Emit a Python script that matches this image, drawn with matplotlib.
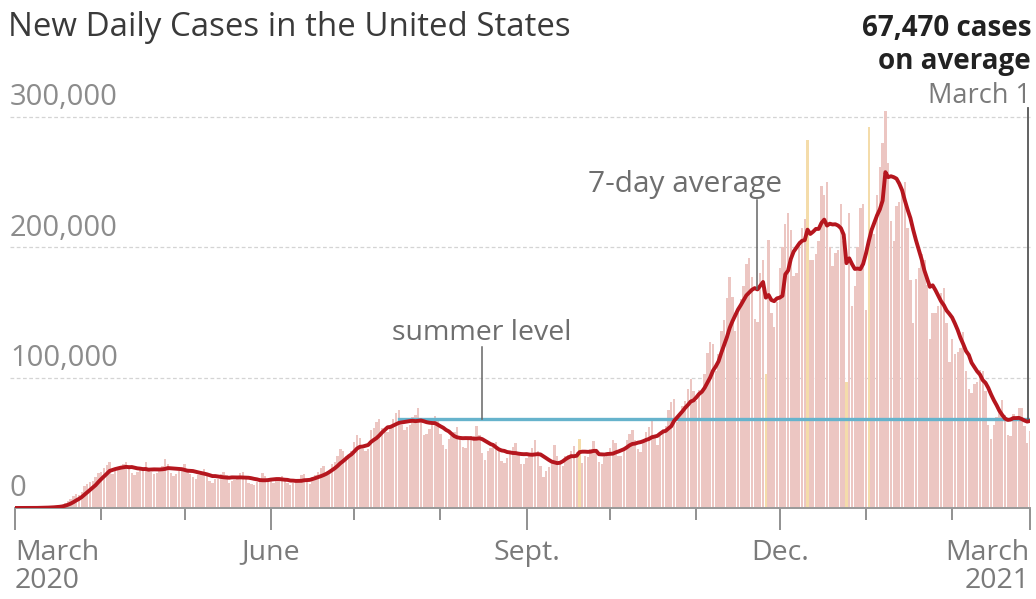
import matplotlib
matplotlib.use('Agg')
import matplotlib.pyplot as plt
import pandas as pd

plt.rcParams['font.family'] = ['Open Sans', 'DejaVu Sans']

# new reported cases per day, in thousands; one row per week (Sun..Sat),
# starting Sunday 1 March 2020 and ending Monday 1 March 2021
daily_k = [
    0.02, 0.02, 0.03, 0.04, 0.05, 0.08, 0.1,
    0.1, 0.2, 0.3, 0.4, 0.5, 0.6, 0.8,
    1.0, 1.3, 1.8, 2.5, 4.2, 5.6, 7.0,
    9.0, 10.5, 10.2, 12.5, 17.0, 18.5, 19.8,
    21.0, 24.0, 27.0, 28.0, 31.0, 33.0, 35.0,
    26.0, 29.0, 31.0, 31.5, 33.5, 35.0, 33.0,
    27.0, 25.5, 27.5, 30.0, 31.0, 35.5, 29.5,
    28.0, 26.0, 27.0, 30.0, 32.0, 37.5, 34.0,
    27.0, 24.5, 26.0, 28.5, 31.0, 33.5, 30.0,
    26.0, 23.5, 22.0, 25.0, 28.0, 30.0, 26.5,
    21.0, 19.0, 22.0, 22.5, 26.0, 28.0, 25.5,
    19.5, 21.0, 21.5, 22.5, 26.5, 27.5, 24.5,
    19.0, 18.5, 18.0, 20.0, 22.5, 26.5, 24.5,
    20.0, 21.0, 19.5, 21.5, 22.5, 24.5, 23.0,
    19.0, 17.5, 19.0, 20.0, 22.5, 25.0, 26.0,
    20.0, 18.5, 23.5, 25.0, 27.5, 30.5, 32.0,
    27.0, 27.5, 33.5, 35.5, 40.0, 45.0, 43.5,
    40.0, 40.5, 44.0, 50.5, 56.0, 54.0, 45.0,
    44.0, 45.0, 60.0, 61.5, 66.0, 68.0, 61.5,
    58.0, 58.5, 62.0, 68.5, 73.0, 75.5, 64.0,
    60.0, 62.0, 64.0, 70.0, 71.0, 77.0, 66.0,
    56.0, 57.0, 61.0, 68.5, 70.5, 69.0, 57.0,
    48.0, 45.5, 53.0, 55.0, 58.5, 62.5, 54.0,
    46.5, 46.0, 52.5, 55.0, 55.5, 63.0, 56.0,
    42.0, 37.0, 44.0, 46.0, 50.0, 50.5, 45.5,
    36.0, 34.5, 38.0, 44.0, 47.0, 50.0, 42.5,
    34.0, 33.5, 38.5, 41.5, 46.0, 52.0, 44.0,
    32.0, 24.0, 28.5, 31.5, 37.0, 48.0, 40.0,
    34.0, 32.0, 40.0, 40.5, 44.0, 47.5, 43.0,
    53.0, 34.5, 40.0, 39.5, 45.0, 51.5, 43.5,
    35.0, 33.5, 39.0, 42.5, 46.0, 52.5, 50.0,
    40.0, 40.0, 45.0, 52.0, 57.0, 60.0, 52.0,
    45.0, 43.0, 50.5, 58.5, 62.0, 69.0, 56.0,
    48.5, 55.0, 61.0, 63.0, 75.0, 81.0, 84.0,
    66.0, 72.0, 78.0, 82.0, 91.0, 99.0, 90.0,
    82.0, 90.5, 90.0, 103.0, 119.0, 127.0, 126.0,
    105.0, 118.0, 136.0, 144.0, 161.0, 177.0, 162.0,
    136.0, 150.0, 160.0, 170.0, 187.0, 192.0, 177.0,
    145.0, 143.0, 180.0, 190.0, 103.0, 206.0, 150.0,
    139.0, 158.0, 184.0, 200.0, 218.0, 226.0, 213.0,
    178.0, 180.0, 205.0, 215.0, 222.0, 282.0, 190.0,
    190.0, 195.0, 205.0, 247.0, 240.0, 250.0, 200.0,
    186.0, 196.0, 198.0, 233.0, 205.0, 97.0, 226.0,
    155.0, 170.0, 200.0, 230.0, 233.0, 152.0, 292.0,
    215.0, 210.0, 240.0, 262.0, 280.0, 305.0, 265.0,
    220.0, 205.0, 232.0, 235.0, 245.0, 250.0, 215.0,
    175.0, 142.0, 176.0, 184.0, 195.0, 190.0, 171.0,
    130.0, 150.0, 150.0, 155.0, 165.0, 169.0, 142.0,
    112.0, 130.0, 118.0, 120.0, 123.0, 135.0, 105.0,
    91.0, 88.0, 95.0, 97.0, 106.0, 105.0, 90.0,
    64.0, 53.0, 64.0, 70.0, 76.0, 83.0, 71.0,
    56.0, 55.0, 72.0, 70.0, 77.0, 77.0, 63.0,
    50.0, 59.0,
]
# days with irregular reporting (holidays, backlogs), drawn in yellow
flagged_dates = ['2020-09-20', '2020-11-26', '2020-12-11', '2020-12-25', '2021-01-02']
summer_level = 68000
summer_start = '2020-07-17'
month_ticks = pd.date_range('2020-03-01', '2021-03-01', freq='MS')
label_months = ['2020-03-01', '2020-06-01', '2020-09-01', '2020-12-01', '2021-03-01']
tick_labels = ['March\n2020', 'June', 'Sept.', 'Dec.', 'March\n2021']
ytick_vals = [0, 100000, 200000, 300000]

df = pd.DataFrame({'cases': [v * 1000 for v in daily_k]},
                  index=pd.date_range('2020-03-01', periods=len(daily_k), freq='D'))
df['avg'] = df['cases'].rolling(7, min_periods=1).mean()
flagged = df.index.isin(pd.to_datetime(flagged_dates))

W, H = 1036, 599
fig = plt.figure(figsize=(W / 100, H / 100), dpi=100)
ax = fig.add_axes([15 / W, (H - 508) / H, (1030 - 15) / W, (508 - 104) / H])

colors = ['#f4dcaa' if f else '#ecc6c2' for f in flagged]
ax.bar(df.index, df['cases'], width=0.86, color=colors, linewidth=0, zorder=1)

ax.set_xlim(df.index[0], df.index[-1])
ax.set_ylim(0, 310000)

# dashed gridlines with labels sitting above them
x_left = df.index[0] - pd.Timedelta(days=1.8)
for v in ytick_vals[1:]:
    ax.plot([x_left, df.index[-1]], [v, v], ls=(0, (3, 2)), lw=0.9, color='#d4d4d4',
            zorder=0, clip_on=False)
for v in ytick_vals:
    ax.text(x_left, v + 3500, f'{v:,}', ha='left', va='bottom', fontsize=21,
            color='#8c8c8c')

# summer level line
ax.plot([pd.Timestamp(summer_start), df.index[-1]], [summer_level, summer_level],
        color='#66b3cc', lw=2.4, zorder=3)

ax.plot(df.index, df['avg'], color='#b5161e', lw=2.8, zorder=4, solid_capstyle='round')

# annotations
x_sum = pd.Timestamp('2020-08-16')
ax.plot([x_sum, x_sum], [summer_level, 123500], color='#666666', lw=1.1, zorder=3)
ax.text(x_sum, 129000, 'summer level', ha='center', va='baseline', fontsize=20.5,
        color='#6e6e6e')

x_avg = pd.Timestamp('2020-11-23')
ax.plot([x_avg, x_avg], [df.loc[x_avg, 'avg'], 236000], color='#666666', lw=1.1, zorder=5)
ax.text(pd.Timestamp('2020-10-28'), 242500, '7-day average', ha='center', va='baseline',
        fontsize=21.5, color='#6e6e6e')

x_end = df.index[-1] - pd.Timedelta(days=0.6)
ax.plot([x_end, x_end], [summer_level, 307000], color='#555555', lw=1.3, zorder=5,
        clip_on=False)

# axes styling
for s in ['top', 'right', 'left']:
    ax.spines[s].set_visible(False)
ax.spines['bottom'].set_color('#999999')
ax.spines['bottom'].set_linewidth(1.4)
ax.set_yticks([])

ax.set_xticks(pd.to_datetime(label_months))
ax.set_xticklabels(tick_labels)
ax.set_xticks([d for d in month_ticks if str(d.date()) not in label_months], minor=True)
ax.tick_params(axis='x', which='major', length=16, width=1.3, color='#888888',
               pad=6, labelsize=20.5, labelcolor='#7a7a7a')
ax.tick_params(axis='x', which='minor', length=8.5, width=1.3, color='#888888')
tl = ax.get_xticklabels()
tl[0].set_horizontalalignment('left')
tl[0].set_multialignment('left')
tl[-1].set_horizontalalignment('right')
tl[-1].set_multialignment('right')
for t in tl:
    t.set_linespacing(1.0)

fig.text(8 / W, 1 - 28 / H, 'New Daily Cases in the United States', ha='left',
         va='center', fontsize=23.8, color='#3a3a3a')
fig.text(1031 / W, 1 - 28 / H, '67,470 cases', ha='right', va='center', fontsize=20,
         fontweight='bold', color='#222222')
fig.text(1031 / W, 1 - 61 / H, 'on average', ha='right', va='center', fontsize=20,
         fontweight='bold', color='#222222')
fig.text(1031 / W, 1 - 96 / H, 'March 1', ha='right', va='center', fontsize=19.5,
         color='#7a7a7a')

fig.savefig('out.png', dpi=100)
